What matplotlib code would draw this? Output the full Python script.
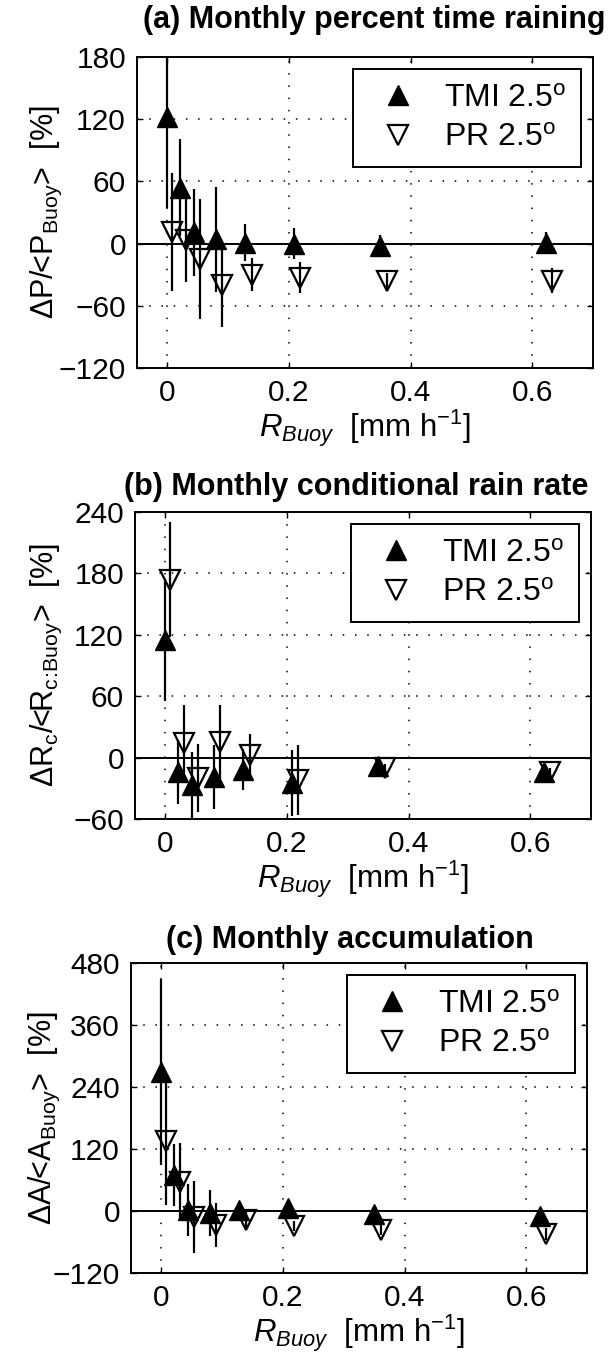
import matplotlib
matplotlib.use("Agg")
import matplotlib.pyplot as plt
import numpy as np

plt.rcParams['font.family'] = ['Liberation Sans', 'DejaVu Sans']
plt.rcParams['mathtext.fontset'] = 'custom'
plt.rcParams['mathtext.rm'] = 'Liberation Sans'
plt.rcParams['mathtext.it'] = 'Liberation Sans:italic'
plt.rcParams['mathtext.bf'] = 'Liberation Sans:bold'

# ---------------- data ----------------
x_tmi = [0.0, 0.021, 0.044, 0.080, 0.128, 0.208, 0.350, 0.622]
x_pr = [0.008, 0.031, 0.054, 0.090, 0.139, 0.218, 0.361, 0.632]

# (a) percent time raining
a_tmi = [122, 54, 11, 4, 1, 0, -2, 1]
a_tmi_err = [88, 47, 42, 51, 18, 15, 10, 10]
a_pr = [11, 3, -15, -40, -30, -33, -36, -36]
a_pr_err = [57, 40, 58, 40, 16, 15, 8, 12]

# (b) conditional rain rate
b_tmi = [115, -14, -27, -19, -12, -25, -8, -14]
b_tmi_err = [60, 31, 32, 31, 20, 32, 4, 4]
b_pr = [174, 14, -20, 15, 3, -22, -10, -14]
b_pr_err = [56, 37, 33, 36, 20, 34, 4, 4]

# (c) accumulation
c_tmi = [270, 70, 2, -4, 2, 6, -5, -10]
c_tmi_err = [180, 60, 50, 45, 8, 8, 6, 6]
c_pr = [136, 57, -11, -27, -17, -29, -37, -45]
c_pr_err = [125, 75, 70, 43, 15, 10, 10, 12]

titles = ['(a) Monthly percent time raining',
          '(b) Monthly conditional rain rate',
          '(c) Monthly accumulation']
ylabels = ['ΔP/<P$_{\\mathrm{Buoy}}$>  [%]',
           'ΔR$_{\\mathrm{c}}$/<R$_{\\mathrm{c}\\!:\\!\\mathrm{Buoy}}$>  [%]',
           'ΔA/<A$_{\\mathrm{Buoy}}$>  [%]']
xlabel = '$R_{Buoy}$  [mm h$^{\\mathrm{-1}}$]'
legend_labels = ['TMI 2.5$^{\\mathrm{o}}$', 'PR 2.5$^{\\mathrm{o}}$']
yticks_list = [[-120, -60, 0, 60, 120, 180],
               [-60, 0, 60, 120, 180, 240],
               [-120, 0, 120, 240, 360, 480]]
xticks = [0, 0.2, 0.4, 0.6]

panels = [(a_tmi, a_tmi_err, a_pr, a_pr_err),
          (b_tmi, b_tmi_err, b_pr, b_pr_err),
          (c_tmi, c_tmi_err, c_pr, c_pr_err)]

W, H = 613, 1361
fig = plt.figure(figsize=(W / 100, H / 100), dpi=100)

# axes boxes in pixels: left, right, top, bottom
boxes = [(137, 593, 57, 368), (135, 591, 512, 819), (131, 587, 963, 1273)]
title_pos = [(143, 20), (124, 487), (166, 940)]
ylabel_x = [64, 64, 62]

for i, (box, (t, te, p, pe)) in enumerate(zip(boxes, panels)):
    l, r, tp, bt = box
    ax = fig.add_axes([l / W, 1 - bt / H, (r - l) / W, (bt - tp) / H])
    yt = yticks_list[i]
    ax.set_xlim(-0.05, 0.7)
    ax.set_ylim(yt[0], yt[-1])
    ax.set_xticks(xticks)
    ax.set_xticklabels(['0', '0.2', '0.4', '0.6'])
    ax.set_yticks(yt)
    ax.grid(True, color='k', linestyle=(0, (1, 7)), linewidth=1.1)
    ax.axhline(0, color='k', linewidth=1.4, zorder=2)
    ax.errorbar(x_tmi, t, yerr=te, fmt='none', ecolor='k', elinewidth=1.6, capsize=0, zorder=3)
    ax.errorbar(x_pr, p, yerr=pe, fmt='none', ecolor='k', elinewidth=1.6, capsize=0, zorder=3)
    h1, = ax.plot(x_tmi, t, linestyle='none', marker='^', markersize=14,
                  markerfacecolor='k', markeredgecolor='k', zorder=4)
    h2, = ax.plot(x_pr, p, linestyle='none', marker='v', markersize=14,
                  markerfacecolor='none', markeredgecolor='k', markeredgewidth=1.6, zorder=4)
    ax.tick_params(direction='in', length=4, width=1, labelsize=21.5, pad=8,
                   top=True, right=True)
    for s in ax.spines.values():
        s.set_linewidth(1.4)
    ax.set_xlabel(xlabel, fontsize=22.5, labelpad=0)
    ax.set_ylabel(ylabels[i], fontsize=22)
    ax.yaxis.set_label_coords((ylabel_x[i] - l) / (r - l), 0.5)
    leg = ax.legend([h1, h2], legend_labels, loc='upper right', fontsize=23,
                    frameon=True, fancybox=False, edgecolor='k', framealpha=1,
                    borderaxespad=0.38, handletextpad=0.5, labelspacing=0.3,
                    borderpad=0.45, handlelength=1.9)
    leg.get_frame().set_linewidth(1.4)
    fig.text(title_pos[i][0] / W, 1 - title_pos[i][1] / H, titles[i],
             fontsize=22, fontweight='bold', ha='left', va='center')

fig.savefig('out.png', dpi=100)
